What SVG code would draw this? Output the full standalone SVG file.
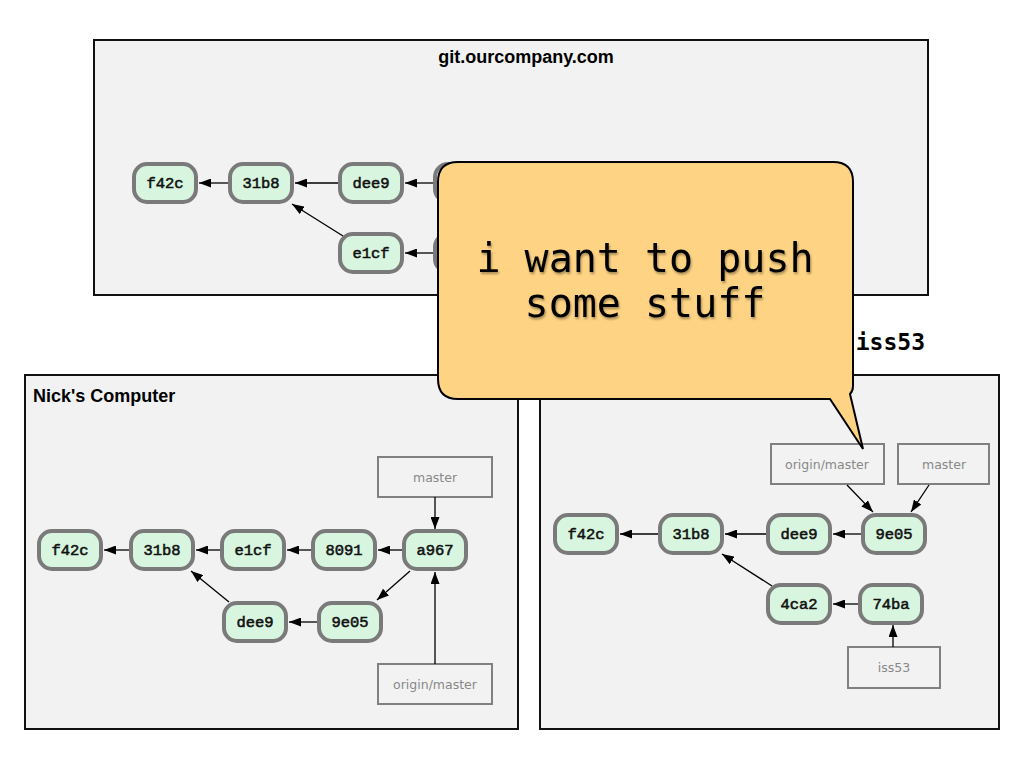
<svg xmlns="http://www.w3.org/2000/svg" width="1024" height="768" viewBox="0 0 1024 768">
<style>
.panel{fill:#f2f2f2;stroke:#111;stroke-width:2}
.title{font-family:"Liberation Sans",Arial,sans-serif;font-weight:bold;font-size:18px;fill:#000}
.commit rect{fill:#d8f5df;stroke:#7a7a7a;stroke-width:4}
.commit text{font-family:"Liberation Mono","Courier New",monospace;font-size:15.5px;fill:#111;stroke:#111;stroke-width:0.55;text-anchor:middle}
.ref rect{fill:#f2f2f2;stroke:#808080;stroke-width:2}
.ref text{font-family:"DejaVu Sans","Lucida Grande",sans-serif;font-size:12.5px;fill:#888;text-anchor:middle}
.conn line{stroke:#000;stroke-width:1.3;marker-end:url(#arr)}
.callout{fill:#fed383;stroke:#000;stroke-width:2}
.say{font-family:"DejaVu Sans Mono",monospace;font-size:40px;fill:#000;text-anchor:middle}
</style>
<defs>
<marker id="arr" markerUnits="userSpaceOnUse" markerWidth="12" markerHeight="9" refX="12" refY="4.5" orient="auto">
<path d="M0,0 L12,4.5 L0,9 Z" fill="#000"/>
</marker>
<filter id="sh" x="-10%" y="-20%" width="120%" height="150%">
<feDropShadow dx="1" dy="2" stdDeviation="1.2" flood-color="#000" flood-opacity="0.35"/>
</filter>
</defs>
<rect width="1024" height="768" fill="#fff"/>

<!-- Server -->
<g id="server">
<rect class="panel" x="94" y="40" width="834" height="255"/>
<text class="title" x="526" y="63" text-anchor="middle">git.ourcompany.com</text>
</g>
<g id="s-f42c" class="commit"><rect x="134" y="164" width="62" height="38" rx="13"/><text x="165" y="188">f42c</text></g>
<g id="s-31b8" class="commit"><rect x="230" y="164" width="62" height="38" rx="13"/><text x="261" y="188">31b8</text></g>
<g id="s-dee9" class="commit"><rect x="340" y="164" width="62" height="38" rx="13"/><text x="371" y="188">dee9</text></g>
<g id="s-e1cf" class="commit"><rect x="340" y="234" width="62" height="38" rx="13"/><text x="371" y="258">e1cf</text></g>
<g id="s-top4" class="commit"><rect x="435" y="164" width="62" height="38" rx="13"/></g>
<g id="s-bot4" class="commit"><rect x="435" y="234" width="62" height="38" rx="13"/></g>

<!-- Nick's Computer -->
<g id="nick">
<rect class="panel" x="25" y="375" width="493" height="354"/>
<text class="title" x="33" y="402">Nick's Computer</text>
</g>
<g id="n-f42c" class="commit"><rect x="39" y="531" width="62" height="38" rx="13"/><text x="70" y="555">f42c</text></g>
<g id="n-31b8" class="commit"><rect x="131" y="531" width="62" height="38" rx="13"/><text x="162" y="555">31b8</text></g>
<g id="n-e1cf" class="commit"><rect x="222" y="531" width="62" height="38" rx="13"/><text x="253" y="555">e1cf</text></g>
<g id="n-8091" class="commit"><rect x="313" y="531" width="62" height="38" rx="13"/><text x="344" y="555">8091</text></g>
<g id="n-a967" class="commit"><rect x="404" y="531" width="62" height="38" rx="13"/><text x="435" y="555">a967</text></g>
<g id="n-dee9" class="commit"><rect x="224" y="603" width="62" height="38" rx="13"/><text x="255" y="627">dee9</text></g>
<g id="n-9e05" class="commit"><rect x="319" y="603" width="62" height="38" rx="13"/><text x="350" y="627">9e05</text></g>
<g id="n-master" class="ref"><rect x="378" y="457" width="114" height="40"/><text x="435" y="482">master</text></g>
<g id="n-origin" class="ref"><rect x="378" y="664" width="114" height="40"/><text x="435" y="689">origin/master</text></g>

<!-- Other computer -->
<g id="jess">
<rect class="panel" x="540" y="375" width="459" height="354"/>
</g>
<g id="j-f42c" class="commit"><rect x="555" y="515" width="62" height="38" rx="13"/><text x="586" y="539">f42c</text></g>
<g id="j-31b8" class="commit"><rect x="660" y="515" width="62" height="38" rx="13"/><text x="691" y="539">31b8</text></g>
<g id="j-dee9" class="commit"><rect x="768" y="515" width="62" height="38" rx="13"/><text x="799" y="539">dee9</text></g>
<g id="j-9e05" class="commit"><rect x="863" y="515" width="62" height="38" rx="13"/><text x="894" y="539">9e05</text></g>
<g id="j-4ca2" class="commit"><rect x="768" y="585" width="62" height="38" rx="13"/><text x="799" y="609">4ca2</text></g>
<g id="j-74ba" class="commit"><rect x="860" y="585" width="62" height="38" rx="13"/><text x="891" y="609">74ba</text></g>
<g id="j-origin" class="ref"><rect x="771" y="444" width="113" height="40"/><text x="827" y="469">origin/master</text></g>
<g id="j-master" class="ref"><rect x="898" y="444" width="91" height="40"/><text x="944" y="469">master</text></g>
<g id="j-iss53" class="ref"><rect x="848" y="647" width="92" height="41"/><text x="894" y="672">iss53</text></g>

<text id="iss53-label" x="925" y="350" text-anchor="end" font-family="DejaVu Sans Mono,monospace" font-weight="bold" font-size="23">iss53</text>

<g id="connectors" class="conn">
<line x1="228" y1="183" x2="199" y2="183"/>
<line x1="338" y1="183" x2="295" y2="183"/>
<line x1="433" y1="183" x2="405" y2="183"/>
<line x1="433" y1="253" x2="405" y2="253"/>
<line x1="343" y1="236" x2="292" y2="204"/>

<line x1="129" y1="550" x2="104" y2="550"/>
<line x1="220" y1="550" x2="196" y2="550"/>
<line x1="311" y1="550" x2="287" y2="550"/>
<line x1="402" y1="550" x2="378" y2="550"/>
<line x1="317" y1="622" x2="289" y2="622"/>
<line x1="410" y1="571" x2="377" y2="600"/>
<line x1="229" y1="602" x2="191" y2="571"/>
<line x1="435" y1="497" x2="435" y2="529"/>
<line x1="435" y1="664" x2="435" y2="572"/>

<line x1="658" y1="534" x2="620" y2="534"/>
<line x1="766" y1="534" x2="725" y2="534"/>
<line x1="861" y1="534" x2="833" y2="534"/>
<line x1="858" y1="604" x2="833" y2="604"/>
<line x1="772" y1="586" x2="722" y2="554"/>
<line x1="847" y1="485" x2="873" y2="512"/>
<line x1="929" y1="485" x2="911" y2="512"/>
<line x1="893" y1="647" x2="893" y2="625"/>
</g>

<g id="callout">
<path class="callout" d="M458,162 H833 Q853,162 853,182 V386 Q853,391 850,394 L863,449 L830,399 H458 Q438,399 438,379 V182 Q438,162 458,162 Z"/>
<g filter="url(#sh)">
<text class="say" x="645" y="272">i want to push</text>
<text class="say" x="645" y="317">some stuff</text>
</g>
</g>
</svg>
